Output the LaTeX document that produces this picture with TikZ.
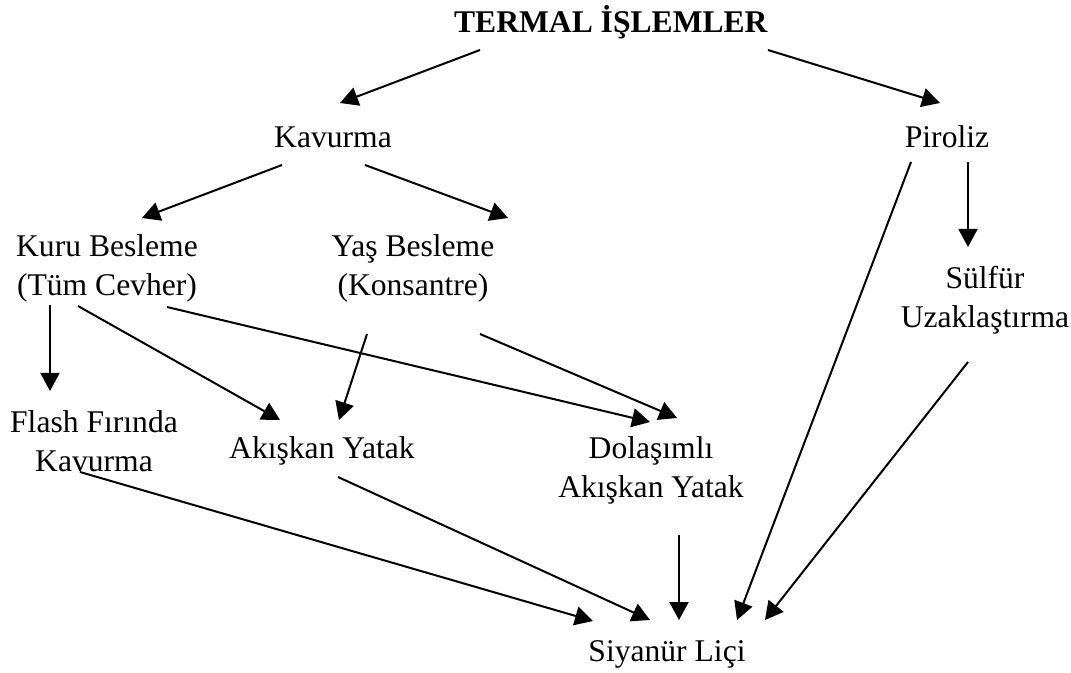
\documentclass[tikz,border=0pt]{standalone}
\usepackage{fontspec}
\setmainfont{Liberation Serif}
\usepackage{tikz}
\usetikzlibrary{arrows.meta,positioning}

\begin{document}
\begin{tikzpicture}[->,>={Triangle[length=9pt,width=9.5pt]},line width=1pt,
  x=0.5pt,y=-0.5pt,
  every node/.style={inner sep=0pt,align=center,font=\fontsize{15.8}{19.5}\selectfont}]

\useasboundingbox (0,0) rectangle (1071,673);

\node (T)     at (611,22)  {\textbf{TERMAL İŞLEMLER}};
\node (kav)   at (333,137) {Kavurma};
\node (pir)   at (947,137) {Piroliz};
\node (kuru)  at (107,268) {Kuru Besleme\\(Tüm Cevher)};
\node (yas)   at (413,268) {Yaş Besleme\\(Konsantre)};
\node (sul)   at (985,300) {Sülfür\\Uzaklaştırma};
\node (flash) at (94,441)  {Flash Fırında\\Kavurma};
\node (ak)    at (322,451) {Akışkan Yatak};
\node (dol)   at (651,470) {Dolaşımlı\\Akışkan Yatak};
\node (siy)   at (667,654) {Siyanür Liçi};

\path
  ([shift={(-131,28)}]T.center)  edge ([shift={(7,-34)}]kav.center)
  ([shift={(157,28)}]T.center)   edge ([shift={(-7,-34)}]pir.center)

  ([shift={(-51,28)}]kav.center) edge ([shift={(35,-50)}]kuru.center)
  ([shift={(32,28)}]kav.center)  edge ([shift={(95,-50)}]yas.center)

  ([shift={(21,25)}]pir.center)  edge ([shift={(-17,-53)}]sul.center)
  ([shift={(-36,25)}]pir.center) edge ([shift={(70,-34)}]siy.center)

  ([shift={(-57,37)}]kuru.center) edge ([shift={(-44,-50)}]flash.center)
  ([shift={(-29,38)}]kuru.center) edge ([shift={(-42,-31)}]ak.center)
  ([shift={(60,39)}]kuru.center)  edge ([shift={(-1,-48)}]dol.center)

  ([shift={(-46,66)}]yas.center) edge ([shift={(17,-31)}]ak.center)
  ([shift={(67,66)}]yas.center)  edge ([shift={(26,-52)}]dol.center)

  ([shift={(-17,62)}]sul.center)   edge ([shift={(98,-34)}]siy.center)
  ([shift={(-14,31)}]flash.center) edge ([shift={(-74,-33)}]siy.center)
  ([shift={(16,26)}]ak.center)     edge ([shift={(-17,-34)}]siy.center)
  ([shift={(28,65)}]dol.center)    edge ([shift={(12,-34)}]siy.center)
;
\end{tikzpicture}
\end{document}
